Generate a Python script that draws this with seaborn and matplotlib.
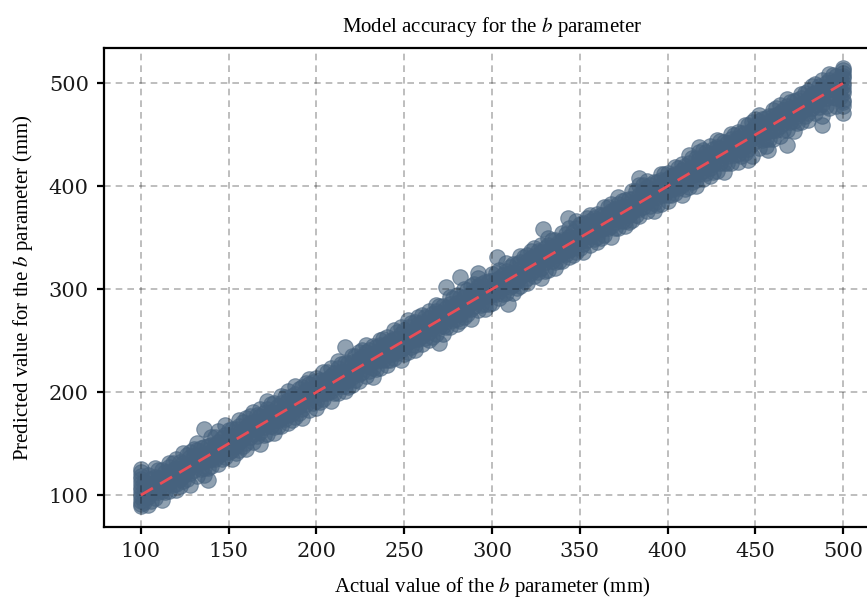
import matplotlib
matplotlib.use("Agg")
import matplotlib.pyplot as plt
import pandas as pd
import seaborn as sns

# ---------------------------------------------------------------------------
# Data (mm)
# ---------------------------------------------------------------------------
actual_b = [
    100, 104, 108, 112, 116, 120, 124, 128, 132, 136,
    140, 144, 148, 152, 156, 160, 164, 168, 172, 176,
    180, 184, 188, 192, 196, 200, 204, 208, 212, 216,
    220, 224, 228, 232, 236, 240, 244, 248, 252, 256,
    260, 264, 268, 272, 276, 280, 284, 288, 292, 296,
    300, 304, 308, 312, 316, 320, 324, 328, 332, 336,
    340, 344, 348, 352, 356, 360, 364, 368, 372, 376,
    380, 384, 388, 392, 396, 400, 404, 408, 412, 416,
    420, 424, 428, 432, 436, 440, 444, 448, 452, 456,
    460, 464, 468, 472, 476, 480, 484, 488, 492, 496,
    500,
]
# five predictions per actual value, spread across the band
predicted_b = [
    [91, 98, 105, 112, 122], [90, 98, 105, 112, 120], [97, 105, 111, 118, 126],
    [95, 104, 110, 117, 124], [104, 112, 120, 127, 131], [105, 111, 120, 126, 135],
    [114, 119, 126, 131, 141], [110, 121, 127, 137, 142], [119, 130, 137, 144, 151],
    [120, 126, 133, 139, 147], [128, 135, 142, 149, 156], [130, 138, 145, 152, 162],
    [137, 145, 151, 158, 168], [135, 144, 150, 157, 164], [144, 152, 160, 167, 173],
    [145, 151, 160, 166, 175], [152, 159, 166, 171, 181], [150, 161, 167, 177, 184],
    [159, 170, 177, 184, 191], [160, 166, 173, 180, 189], [167, 175, 182, 189, 196],
    [170, 178, 185, 192, 201], [176, 185, 191, 198, 206], [175, 184, 190, 197, 205],
    [183, 194, 199, 208, 213], [185, 191, 200, 206, 214], [193, 199, 206, 211, 220],
    [191, 201, 207, 216, 223], [199, 209, 217, 223, 230], [201, 206, 213, 220, 228],
    [207, 215, 222, 229, 235], [211, 218, 225, 232, 239], [216, 225, 231, 239, 246],
    [215, 223, 230, 237, 245], [223, 232, 240, 246, 251], [226, 231, 240, 247, 254],
    [233, 239, 246, 252, 260], [231, 241, 247, 256, 263], [239, 249, 257, 263, 270],
    [241, 246, 253, 260, 268], [247, 255, 262, 268, 275], [251, 258, 265, 272, 279],
    [256, 265, 271, 279, 285], [256, 264, 270, 276, 284], [263, 272, 280, 286, 292],
    [266, 271, 280, 287, 294], [273, 279, 286, 292, 300], [271, 281, 287, 296, 303],
    [280, 289, 297, 303, 311], [281, 286, 293, 300, 307], [287, 295, 302, 308, 315],
    [291, 298, 305, 311, 319], [296, 305, 311, 318, 325], [296, 304, 310, 316, 324],
    [303, 312, 320, 326, 332], [306, 311, 320, 327, 333], [313, 319, 326, 332, 340],
    [311, 321, 327, 336, 343], [319, 329, 337, 343, 350], [321, 326, 333, 340, 348],
    [327, 335, 342, 348, 355], [331, 338, 345, 351, 359], [336, 345, 351, 359, 366],
    [336, 344, 350, 356, 364], [343, 352, 360, 366, 372], [346, 351, 360, 367, 373],
    [353, 359, 366, 372, 380], [351, 361, 367, 376, 383], [359, 369, 377, 383, 390],
    [361, 366, 373, 380, 387], [367, 375, 382, 388, 395], [371, 378, 385, 391, 401],
    [376, 385, 391, 399, 405], [376, 384, 390, 396, 404], [383, 392, 400, 406, 412],
    [386, 391, 400, 407, 413], [393, 399, 406, 412, 419], [391, 401, 407, 416, 422],
    [399, 409, 417, 423, 430], [400, 406, 413, 420, 427], [407, 415, 422, 428, 435],
    [410, 418, 425, 431, 439], [415, 425, 431, 438, 445], [414, 423, 430, 436, 443],
    [423, 432, 440, 446, 451], [424, 431, 440, 447, 453], [432, 439, 446, 452, 459],
    [429, 441, 447, 455, 462], [437, 449, 457, 463, 469], [439, 446, 453, 460, 466],
    [446, 455, 462, 468, 474], [449, 458, 465, 471, 479], [455, 465, 471, 478, 485],
    [454, 463, 470, 476, 483], [462, 472, 480, 486, 490], [464, 471, 479, 485, 492],
    [471, 479, 486, 491, 499], [468, 480, 487, 495, 503], [476, 489, 497, 503, 509],
    [478, 486, 493, 499, 507], [482, 493, 500, 507, 513],
]
# a second pass of test samples between the first ones, four predictions each
actual_b_mid = [
    102, 106, 110, 114, 118, 122, 126, 130, 134, 138,
    142, 146, 150, 154, 158, 162, 166, 170, 174, 178,
    182, 186, 190, 194, 198, 202, 206, 210, 214, 218,
    222, 226, 230, 234, 238, 242, 246, 250, 254, 258,
    262, 266, 270, 274, 278, 282, 286, 290, 294, 298,
    302, 306, 310, 314, 318, 322, 326, 330, 334, 338,
    342, 346, 350, 354, 358, 362, 366, 370, 374, 378,
    382, 386, 390, 394, 398, 402, 406, 410, 414, 418,
    422, 426, 430, 434, 438, 442, 446, 450, 454, 458,
    462, 466, 470, 474, 478, 482, 486, 490, 494, 498,
]
predicted_b_mid = [
    [93, 100, 107, 113], [94, 102, 109, 116], [103, 110, 117, 124], [103, 109, 116, 122],
    [110, 117, 124, 131], [109, 116, 123, 132], [116, 123, 129, 139], [124, 131, 138, 145],
    [125, 132, 139, 146], [126, 134, 141, 148], [135, 142, 149, 156], [135, 141, 148, 155],
    [142, 149, 156, 163], [141, 148, 155, 164], [148, 155, 161, 171], [156, 163, 170, 177],
    [157, 164, 171, 178], [158, 166, 173, 180], [167, 174, 181, 188], [167, 173, 180, 187],
    [174, 181, 188, 195], [173, 180, 187, 196], [180, 187, 193, 203], [188, 195, 202, 209],
    [189, 196, 203, 210], [190, 198, 205, 212], [199, 206, 213, 220], [199, 205, 212, 219],
    [206, 213, 220, 227], [205, 212, 219, 228], [212, 219, 225, 235], [220, 227, 234, 241],
    [221, 228, 235, 241], [222, 230, 237, 244], [231, 238, 245, 252], [231, 237, 244, 250],
    [238, 245, 252, 258], [237, 244, 251, 260], [244, 251, 257, 267], [252, 259, 266, 273],
    [253, 260, 267, 273], [254, 262, 269, 276], [263, 270, 277, 284], [263, 269, 276, 282],
    [270, 277, 284, 291], [269, 276, 283, 292], [276, 283, 289, 299], [284, 291, 298, 305],
    [285, 292, 299, 305], [286, 294, 301, 308], [295, 302, 309, 316], [295, 301, 308, 314],
    [302, 309, 316, 322], [301, 308, 315, 324], [308, 315, 321, 331], [316, 323, 330, 337],
    [317, 324, 331, 337], [318, 326, 333, 340], [327, 334, 341, 348], [327, 333, 340, 346],
    [334, 341, 348, 354], [333, 340, 347, 356], [340, 347, 353, 363], [348, 355, 362, 369],
    [349, 356, 363, 369], [350, 358, 365, 372], [359, 366, 373, 380], [359, 365, 372, 378],
    [366, 373, 380, 386], [365, 372, 379, 388], [372, 379, 385, 395], [380, 387, 394, 401],
    [381, 388, 395, 401], [382, 390, 397, 404], [391, 398, 405, 412], [391, 397, 404, 410],
    [398, 405, 412, 418], [397, 404, 411, 420], [404, 411, 417, 427], [412, 419, 426, 433],
    [413, 420, 427, 433], [414, 422, 429, 436], [423, 430, 437, 444], [423, 429, 436, 442],
    [430, 437, 444, 450], [429, 436, 443, 452], [436, 443, 449, 459], [444, 451, 458, 465],
    [445, 452, 459, 465], [446, 454, 461, 468], [455, 462, 469, 476], [455, 461, 468, 474],
    [462, 469, 476, 482], [461, 468, 475, 484], [468, 475, 481, 491], [476, 483, 490, 497],
    [477, 484, 491, 497], [478, 486, 493, 500], [487, 494, 501, 508], [487, 493, 500, 506],
]
# clipped predictions stacked at the ends of the range
edge_actual = [100, 100, 100, 100, 100, 100, 100, 500, 500, 500, 500, 500, 500, 500, 500]
edge_predicted = [89, 94, 101, 108, 116, 119, 125, 471, 478, 484, 491, 497, 505, 510, 515]
# isolated points outside the main band
outlier_actual = [136, 138, 216, 270, 274, 282, 292, 303, 309, 329, 343, 384, 418, 446, 457, 468, 488]
outlier_predicted = [164, 115, 244, 248, 302, 312, 316, 331, 286, 358, 369, 408, 438, 425, 435, 440, 459]

ideal_x = [100, 500]
ideal_y = [100, 500]

# ---------------------------------------------------------------------------
# Assemble
# ---------------------------------------------------------------------------
pairs = [(a, p) for a, preds in zip(actual_b, predicted_b) for p in preds]
pairs += [(a, p) for a, preds in zip(actual_b_mid, predicted_b_mid) for p in preds]
pairs += list(zip(edge_actual, edge_predicted))
pairs += list(zip(outlier_actual, outlier_predicted))
df = pd.DataFrame(pairs, columns=["actual", "predicted"])

POINT = "#46627e"
RED = "#e84d57"

sns.set_theme(style="white")
plt.rcParams["font.family"] = ["DejaVu Serif"]
plt.rcParams["mathtext.fontset"] = "stix"

fig = plt.figure(figsize=(8.67, 6.03), dpi=100)
ax = fig.add_axes([0.12, 0.126, 0.895, 0.794])

sns.scatterplot(data=df, x="actual", y="predicted", color=POINT, alpha=0.6,
                s=125, edgecolor=POINT, linewidth=0.8, ax=ax, legend=False)
sns.lineplot(x=ideal_x, y=ideal_y, color=RED, lw=2, linestyle=(0, (5, 3)), ax=ax, zorder=3)

ax.set_xlim(79, 521)
ax.set_ylim(69, 534)
ax.set_xticks([100, 150, 200, 250, 300, 350, 400, 450, 500])
ax.set_yticks([100, 200, 300, 400, 500])

ax.set_axisbelow(False)
ax.grid(True, color="black", alpha=0.3, linestyle=(0, (4, 3)), linewidth=1.2)

for s in ax.spines.values():
    s.set_color("black")
    s.set_linewidth(1.6)
ax.tick_params(axis="both", which="major", direction="out", length=5, width=1.6,
               color="black", labelsize=15, pad=6, labelcolor="#1a1a1a",
               bottom=True, left=True)

tfont = dict(family="Liberation Serif", size=15, color="black")
ax.set_title("Model accuracy for the $b$ parameter", pad=12, fontdict=tfont)
ax.set_xlabel("Actual value of the $b$ parameter (mm)", labelpad=10, fontdict=tfont)
ax.set_ylabel("Predicted value for the $b$ parameter (mm)", labelpad=10, fontdict=tfont)

fig.savefig("out.png", dpi=100, facecolor="white")
plt.close(fig)
